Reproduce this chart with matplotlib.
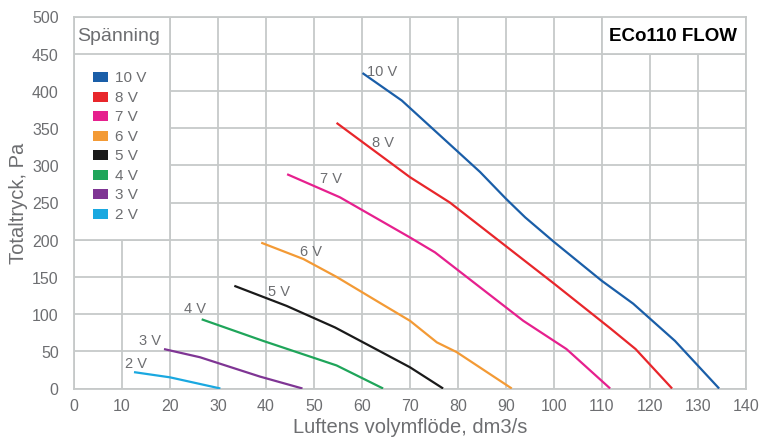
import matplotlib
matplotlib.use("Agg")
import matplotlib.pyplot as plt
from matplotlib.patches import Rectangle

plt.rcParams["font.family"] = ["Liberation Sans", "DejaVu Sans"]

# Curves: air flow (dm3/s) vs total pressure (Pa) per control voltage
voltages = ["10 V", "8 V", "7 V", "6 V", "5 V", "4 V", "3 V", "2 V"]
colors = ["#1a5ea8", "#e8262b", "#e6208e", "#f39a35",
          "#1a1a1a", "#1fa55a", "#7f3594", "#1aa8e0"]

flow_10v = [60.1, 68.3, 84.6, 90.0, 94.0, 100.0, 109.9, 116.5, 125.2, 134.4]
pres_10v = [424, 387, 291, 255, 230, 197, 145, 114, 64, 0]
flow_8v = [54.7, 70.0, 78.3, 100.0, 111.7, 117.0, 124.6]
pres_8v = [357, 284, 250, 141, 81, 53, 0]
flow_7v = [44.4, 55.4, 70.0, 75.2, 93.6, 102.6, 111.7]
pres_7v = [288, 257, 203, 183, 91, 53, 0]
flow_6v = [39.0, 47.8, 54.7, 63.75, 70.0, 75.6, 79.7, 91.2]
pres_6v = [196, 174, 150, 115, 91, 62, 49, 0]
flow_5v = [33.4, 44.3, 54.4, 63.75, 70.0, 76.9]
pres_5v = [138, 111, 82, 50, 28.5, 0]
flow_4v = [26.6, 39.4, 54.7, 64.4]
pres_4v = [93, 64, 31, 0]
flow_3v = [18.75, 26.25, 38.75, 47.6]
pres_3v = [53, 42, 16, 0]
flow_2v = [12.5, 20.0, 30.5]
pres_2v = [22, 15, 0]

flows = [flow_10v, flow_8v, flow_7v, flow_6v, flow_5v, flow_4v, flow_3v, flow_2v]
pressures = [pres_10v, pres_8v, pres_7v, pres_6v, pres_5v, pres_4v, pres_3v, pres_2v]

# curve label anchors (centre of text)
label_x = [64.2, 64.4, 53.6, 49.4, 42.8, 25.25, 15.9, 13.0]
label_y = [427, 331, 283, 185, 131, 108, 65, 34]

grid_col = "#c6c9c9"
text_col = "#6d6e71"

fig = plt.figure(figsize=(7.6, 4.39), dpi=100)
ax = fig.add_axes([74 / 760, 1 - 389.5 / 439, 672 / 760, 372 / 439])

for fl, pr, c in zip(flows, pressures, colors):
    ax.plot(fl, pr, color=c, lw=1.6, solid_capstyle="butt", zorder=3)

for lab, lx, ly in zip(voltages, label_x, label_y):
    ax.text(lx, ly, lab, color=text_col, fontsize=10.5, ha="center", va="center", zorder=4)

ax.set_xlim(0, 140)
ax.set_ylim(0, 500)
ax.set_xticks(range(0, 141, 10))
ax.set_yticks(range(0, 501, 50))
ax.set_axisbelow(True)
ax.grid(True, color=grid_col, lw=1.3)
for sp in ax.spines.values():
    sp.set_color(grid_col)
    sp.set_linewidth(1.3)
ax.tick_params(length=0, colors=text_col, labelsize=11.5)
ax.tick_params(axis="y", pad=11)
ax.tick_params(axis="x", pad=7)

ax.set_xlabel("Luftens volymflöde, dm3/s", color=text_col, fontsize=14.5, labelpad=3)
ax.set_ylabel("Totaltryck, Pa", color=text_col, fontsize=14.5, labelpad=3)

# legend box
ax.add_patch(Rectangle((0, 200), 20, 300, facecolor="white", edgecolor=grid_col,
                       lw=1.3, zorder=1))
ax.plot([0, 20], [450, 450], color=grid_col, lw=1.3, zorder=1.5)
ax.text(0.7, 475, "Spänning", color=text_col, fontsize=14, ha="left", va="center")
for i, (lab, c) in enumerate(zip(voltages, colors)):
    yy = 418.3 - i * 26.2
    ax.add_patch(Rectangle((4.0, yy - 6.7), 3.0, 13.4, facecolor=c, edgecolor="none",
                           zorder=2))
    ax.text(8.5, yy, lab, color=text_col, fontsize=11, ha="left", va="center")

# model box
ax.add_patch(Rectangle((110, 450), 30, 50, facecolor="white", edgecolor=grid_col,
                       lw=1.3, zorder=1))
ax.text(124.8, 474, "ECo110 FLOW", color="black", fontsize=13.5, fontweight="bold",
        ha="center", va="center")

fig.savefig("out.png", dpi=100)
